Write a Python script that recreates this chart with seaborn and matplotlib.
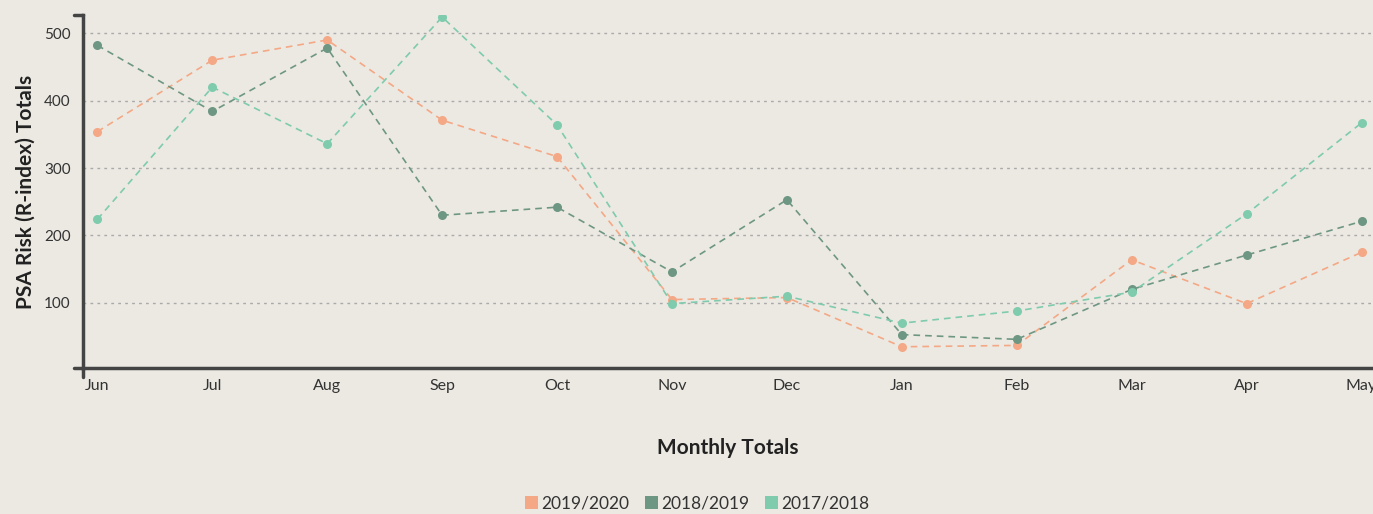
import matplotlib
matplotlib.use("Agg")
import matplotlib.pyplot as plt
import seaborn as sns
import pandas as pd
from matplotlib.patches import Patch
from matplotlib.lines import Line2D

months = ["Jun", "Jul", "Aug", "Sep", "Oct", "Nov", "Dec", "Jan", "Feb", "Mar", "Apr", "May"]
s2019_2020 = [354, 460, 490, 371, 317, 105, 108, 35, 37, 164, 99, 175]
s2018_2019 = [482, 384, 478, 230, 242, 146, 253, 53, 46, 120, 171, 221]
s2017_2018 = [224, 420, 336, 524, 364, 99, 110, 70, 88, 116, 232, 367]
series_names = ["2019/2020", "2018/2019", "2017/2018"]
colors = ["#f4a885", "#6e9783", "#7ecbad"]
yticks = [100, 200, 300, 400, 500]

bg = "#ece9e2"
dark = "#444444"
sns.set_theme(style="white")
plt.rcParams["font.family"] = ["Lato", "DejaVu Sans"]

rows = []
for name, vals in zip(series_names, [s2019_2020, s2018_2019, s2017_2018]):
    for i, v in enumerate(vals):
        rows.append({"idx": i, "month": months[i], "value": v, "season": name})
df = pd.DataFrame(rows)

fig = plt.figure(figsize=(13.73, 5.14), dpi=100, facecolor=bg)
ax = fig.add_axes([83 / 1373, 146 / 514, 1 - 83 / 1373, (368 - 15) / 514])
ax.set_facecolor(bg)

for name, col in zip(series_names, colors):
    sub = df[df["season"] == name]
    sns.lineplot(data=sub, x="idx", y="value", ax=ax, color=col, linestyle=(0, (4, 3)),
                 linewidth=1.2, marker="o", markersize=6.5, markeredgewidth=0,
                 legend=False, zorder=3)

ax.set_xlim(-0.125, 11.1)
ax.set_ylim(3.5, 527)
ax.set_xticks(range(len(months)))
ax.set_xticklabels(months)
ax.set_yticks(yticks)
ax.grid(axis="y", color="#aaaaaa", linestyle=(0, (2, 3)), linewidth=1)
ax.grid(axis="x", visible=False)
ax.tick_params(axis="x", length=7, width=1.5, color=dark, labelsize=11.5, labelcolor="#333333", pad=1)
ax.tick_params(axis="y", length=0, labelsize=11, labelcolor="#333333", pad=9)
for s in ["top", "right"]:
    ax.spines[s].set_visible(False)
for s in ["left", "bottom"]:
    ax.spines[s].set_color(dark)
    ax.spines[s].set_linewidth(2.5)

# d3-style outer ticks
tr = ax.transAxes
fx = 9 / (1373 - 83)
fy = 9 / (368 - 15)
ax.add_line(Line2D([-fx, 0], [1, 1], transform=tr, color=dark, lw=2.5, clip_on=False))
ax.add_line(Line2D([-fx, 0], [0, 0], transform=tr, color=dark, lw=2.5, clip_on=False))
ax.add_line(Line2D([0, 0], [0, -fy], transform=tr, color=dark, lw=2.5, clip_on=False))

ax.set_xlabel("Monthly Totals", fontsize=15, fontweight="bold", color="#222222", labelpad=32)
ax.set_ylabel("PSA Risk (R-index) Totals", fontsize=15, fontweight="bold", color="#222222", labelpad=6)

handles = [Patch(facecolor=c, edgecolor="none", label=n) for n, c in zip(series_names, colors)]
fig.legend(handles=handles, loc="lower center", bbox_to_anchor=(697 / 1373, -0.025), ncol=3,
           frameon=False, fontsize=12.5, handlelength=0.75, handleheight=0.75,
           handletextpad=0.2, columnspacing=0.9, labelcolor="#333333")

fig.savefig("out.png", dpi=100, facecolor=bg)
